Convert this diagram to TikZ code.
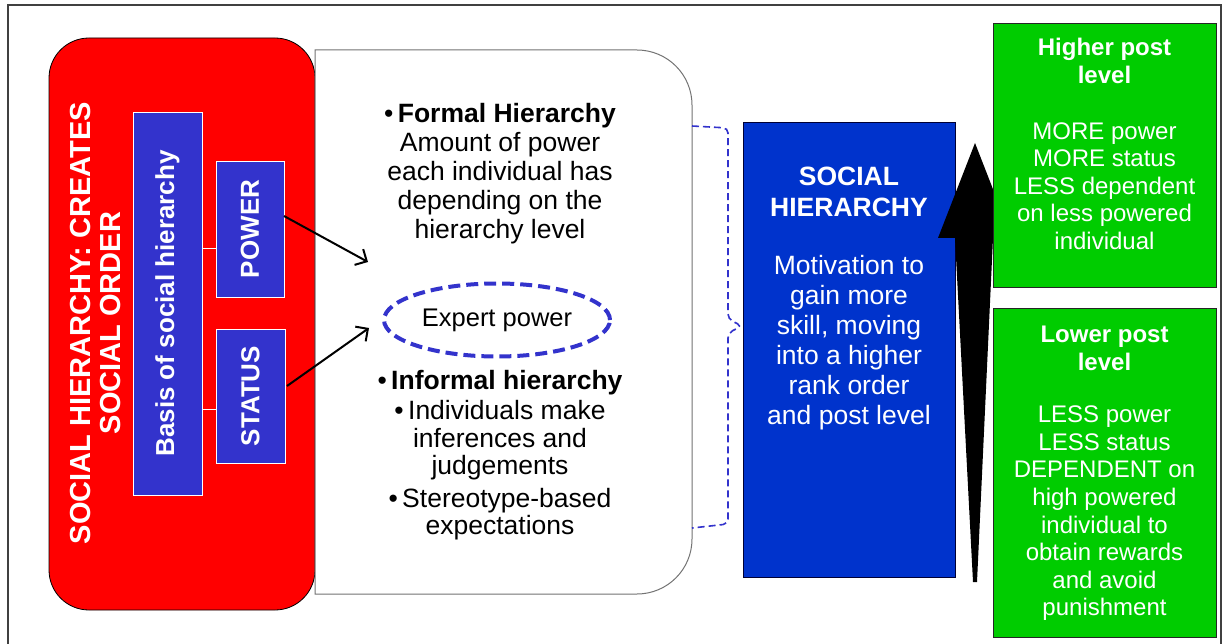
\documentclass[tikz,border=0pt]{standalone}
\usepackage{fontspec}
\setmainfont{Liberation Sans}
\usetikzlibrary{shapes.geometric,arrows.meta}
\definecolor{redbg}{HTML}{FF0000}
\definecolor{innerblue}{HTML}{3333CC}
\definecolor{socblue}{HTML}{0033CC}
\definecolor{greenbg}{HTML}{00CC00}
\definecolor{dashblue}{HTML}{3333CC}
\newcommand\fzred{\fontsize{29}{30}\selectfont}
\newcommand\fzmid{\fontsize{26.5}{29}\selectfont}
\newcommand\fzsoc{\fontsize{26.5}{30}\selectfont}
\newcommand\fzgrn{\fontsize{24}{27.6}\selectfont}
\begin{document}
\begin{tikzpicture}[x=1pt,y=-1pt,
  txt/.style={inner sep=0pt, align=center},
  wtxt/.style={txt, text=white},
  innerbox/.style={draw=white, line width=0.8pt, fill=innerblue, inner sep=0pt},
  greenbox/.style={draw=black!85, line width=1pt, fill=greenbg, inner sep=0pt, minimum width=223pt},
  conn/.style={draw=black, line width=2pt, -{Straight Barb[length=9pt,width=18pt,line width=2pt]}},
  brace/.style={draw=dashblue, line width=1.6pt, dash pattern=on 7pt off 4pt, rounded corners=5pt}]
\useasboundingbox (0,0) rectangle (1226,644);
\fill[white] (0,0) rectangle (1226,644);
\draw[line width=1.8pt, black!75] (8,5) rectangle (1221,660);

% red container
\node[draw=black, line width=0.8pt, fill=redbg, rounded corners=40pt, minimum width=266pt, minimum height=572pt, inner sep=0pt] (red) at (182,324) {};
\node[wtxt, rotate=90, font=\fzred\bfseries] (redtitle) at (96,323) {SOCIAL HIERARCHY: CREATES\\SOCIAL ORDER};

% white panel, rounded on the right
\draw[draw=black!55, line width=1pt, fill=white] (315,50) -- (637,50) .. controls (667.4,50) and (692,74.6) .. (692,105) -- (692,539) .. controls (692,569.4) and (667.4,594) .. (637,594) -- (315,594) -- cycle;

% inner blue boxes
\node[innerbox, minimum width=69pt, minimum height=383pt] (basis) at (167.5,303.5) {};
\node[wtxt, rotate=90, font=\fontsize{26}{28}\selectfont\bfseries] (basistxt) at (basis.center) {Basis of social hierarchy};
\node[innerbox, minimum width=68pt, minimum height=136pt] (power) at (250,229) {};
\node[wtxt, rotate=90, font=\fontsize{26}{28}\selectfont\bfseries] (powertxt) at (power.center) {POWER};
\node[innerbox, minimum width=69pt, minimum height=134pt] (status) at (250.5,396) {};
\node[wtxt, rotate=90, font=\fontsize{26}{28}\selectfont\bfseries] (statustxt) at (status.center) {STATUS};
\coordinate (j1) at (202,248);
\coordinate (j2) at (202,409);
\draw[white, line width=0.8pt] (j1) -- (j1 -| power.west);
\draw[white, line width=0.8pt] (j2) -- (j2 -| status.west);

% middle texts
\node[txt, font=\fzmid] (formal) at (500,174) {\textbullet\,\textbf{Formal Hierarchy}\\Amount of power\\each individual has\\depending on the\\hierarchy level};
\node[draw=dashblue, line width=4pt, dash pattern=on 12pt off 6pt, ellipse, minimum width=226pt, minimum height=73pt, inner sep=0pt, font=\fontsize{25.5}{27}\selectfont] (expert) at (497,320) {Expert power};
\node[txt, font=\fontsize{26.5}{27.5}\selectfont] (informal) at (500,455) {\textbullet\,\textbf{Informal hierarchy}\\[3pt]\textbullet\,Individuals make\\inferences and\\judgements\\[5pt]\textbullet\,Stereotype-based\\expectations};

% arrows from POWER and STATUS
\coordinate (p1) at (284,216);
\coordinate (p2) at (368,262);
\coordinate (s1) at (287,386);
\coordinate (s2) at (369,328);
\draw[conn] (p1) -- (p2);
\draw[conn] (s1) -- (s2);

% social hierarchy box
\node[draw=black!80!blue, line width=1pt, fill=socblue, minimum width=212pt, minimum height=454pt, inner sep=0pt] (soc) at (849,350) {};
\node[wtxt, font=\fontsize{26.5}{31}\selectfont\bfseries] (soctitle) at (849,191.5) {SOCIAL\\HIERARCHY};
\node[wtxt, font=\fzsoc] (socbody) at (849,343) {Motivation to\\gain more\\skill, moving\\into a higher\\rank order\\and post level};

% dashed brace
\coordinate (b0) at (692,126);
\coordinate (b1) at (692,528);
\draw[brace] (b0) -- (728,128) -- (728,319) -- (742,326) -- (728,333) -- (728,524) -- (b1);

% black tapered arrow
\fill[black] (975,143) -- (1012,238) -- (993,238) -- (977,582) -- (973,582) -- (955,238) -- (938,238) -- cycle;

% green boxes
\node[greenbox, minimum height=264pt] (high) at (1104.5,156) {};
\node[wtxt, font=\fontsize{24}{28}\selectfont\bfseries] (hightitle) at (1104.5,61) {Higher post\\level};
\node[wtxt, font=\fzgrn] (highbody) at (1104.5,186) {MORE power\\MORE status\\LESS dependent\\on less powered\\individual};
\node[greenbox, minimum height=328pt] (low) at (1104.5,473) {};
\node[wtxt, font=\fontsize{24}{28}\selectfont\bfseries] (lowtitle) at (1104.5,348) {Lower post\\level};
\node[wtxt, font=\fzgrn] (lowbody) at (1104.5,513.5) {LESS power\\LESS status\\DEPENDENT on\\high powered\\individual to\\obtain rewards\\and avoid\\punishment};
\end{tikzpicture}
\end{document}
